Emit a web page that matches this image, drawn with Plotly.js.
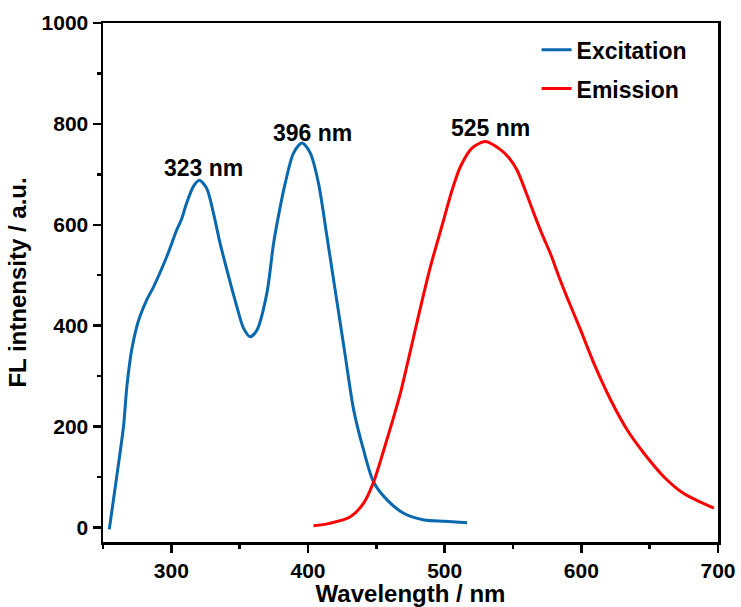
<!DOCTYPE html>
<html>
<head>
<meta charset="utf-8">
<script src="https://cdn.plot.ly/plotly-3.0.1.min.js"></script>
<style>html,body{margin:0;padding:0;background:#fff;}#chart{width:741px;height:607px;}</style>
</head>
<body>
<div id="chart"></div>
<script>
// Excitation spectrum
const excX = [254.6, 260, 265, 267.5, 271, 274.7, 277, 282, 287, 296.7, 304, 307.6, 311.2, 316.2, 320.5, 325.9, 330.8, 335.7, 340.6, 347.9, 352.8, 357.7, 362.6, 369.9, 374.8, 379.7, 383.3, 389.4, 395.6, 401.7, 407.7, 413.9, 418.7, 423.6, 427, 433.4, 440.7, 448, 458, 470, 485, 500, 516.4];
const excY = [-4, 100, 200, 280, 352, 398, 418, 451, 477, 537, 590, 612, 643, 676, 688, 672, 623, 563, 511, 438, 395, 378, 391, 464, 563, 636, 682, 742, 762, 742, 682, 576, 491, 405, 345, 233, 153, 90, 54, 28, 14.5, 12, 9];
// Emission spectrum
const emiX = [404, 416, 431, 440.7, 448, 455.4, 462.7, 467.6, 472.5, 477.3, 482.2, 489.6, 499.3, 505, 511.5, 520, 529.9, 540.8, 547, 553, 559, 565.2, 571, 577.5, 583.6, 589.7, 599.5, 609.2, 621.4, 633.6, 645.8, 660.5, 675, 697];
const emiY = [3, 8, 21, 48, 90, 153, 219, 266, 322, 378, 435, 517, 610, 665, 715, 752, 765, 749, 733, 708, 668, 623, 583, 542, 497, 455, 391, 325, 253, 193, 147, 100, 67, 38];
// Peak labels
const peakX = [323.3, 403, 533.5];
const peakY = [713, 782, 792];
const peakText = ['323 nm', '396 nm', '525 nm'];
const seriesNames = ['Excitation', 'Emission'];
const xTicks = [300, 400, 500, 600, 700];
const yTicks = [0, 200, 400, 600, 800, 1000];

const FONT = 'Arial, "Liberation Sans", sans-serif';

const traces = [
  {x: excX, y: excY, type: 'scatter', mode: 'lines', name: seriesNames[0], legendgroup: 'a',
   line: {color: '#0A68AE', width: 3, shape: 'spline', smoothing: 0.8}},
  {x: emiX, y: emiY, type: 'scatter', mode: 'lines', name: seriesNames[1], legendgroup: 'b',
   line: {color: '#FF0000', width: 3, shape: 'spline', smoothing: 0.8}}
];

const annotations = peakText.map((t, i) => ({
  x: peakX[i], y: peakY[i], xref: 'x', yref: 'y', text: t, showarrow: false,
  font: {family: FONT, size: 23, color: '#000', weight: 'bold'}
}));

const axisCommon = {
  showline: true, linecolor: '#000', linewidth: 2.5, mirror: true,
  ticks: 'outside', ticklen: 8, tickwidth: 2.5, tickcolor: '#000',
  showgrid: false, zeroline: false,
  tickfont: {family: FONT, size: 21, color: '#000', weight: 'bold'}
};

const layout = {
  width: 741, height: 607,
  margin: {l: 103, r: 23, t: 23, b: 65},
  paper_bgcolor: '#fff', plot_bgcolor: '#fff',
  showlegend: true,
  legend: {x: 0.705, y: 0.99, xanchor: 'left', yanchor: 'top', bgcolor: 'rgba(0,0,0,0)',
           font: {family: FONT, size: 23, color: '#000', weight: 'bold'},
           traceorder: 'grouped', tracegroupgap: 6},
  xaxis: Object.assign({}, axisCommon, {
    range: [250, 700], tickvals: xTicks, ticktext: xTicks.map(String),
    minor: {dtick: 50, tick0: 250, ticks: 'outside', ticklen: 4, tickwidth: 2.5, tickcolor: '#000'},
    title: {text: 'Wavelength / nm', standoff: 6, font: {family: FONT, size: 24, color: '#000', weight: 'bold'}}
  }),
  yaxis: Object.assign({}, axisCommon, {
    range: [-29, 1000], tickvals: yTicks, ticktext: yTicks.map(String),
    minor: {dtick: 100, tick0: 0, ticks: 'outside', ticklen: 4, tickwidth: 2.5, tickcolor: '#000'},
    title: {text: 'FL intnensity / a.u.', standoff: 8, font: {family: FONT, size: 24, color: '#000', weight: 'bold'}}
  }),
  annotations: annotations
};

Plotly.newPlot('chart', traces, layout, {displayModeBar: false, staticPlot: true});
</script>
</body>
</html>
